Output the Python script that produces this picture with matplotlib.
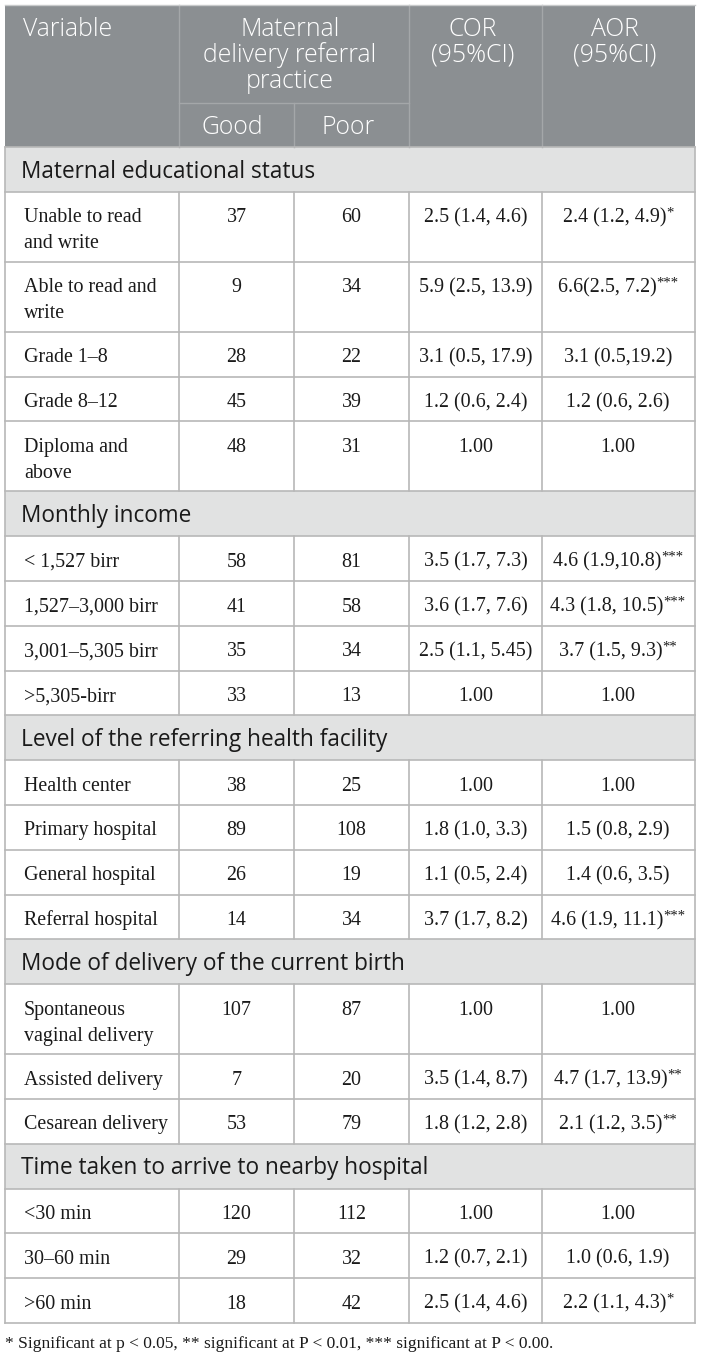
import matplotlib
matplotlib.use("Agg")
import matplotlib.pyplot as plt
from matplotlib.patches import Rectangle

# table content
section_names = [
    "Maternal educational status",
    "Monthly income",
    "Level of the referring health facility",
    "Mode of delivery of the current birth",
    "Time taken to arrive to nearby hospital",
]
row_section = [0, 0, 0, 0, 0, 1, 1, 1, 1, 2, 2, 2, 2, 3, 3, 3, 4, 4, 4]
row_labels = [
    "Unable to read\nand write", "Able to read and\nwrite", "Grade 1–8", "Grade 8–12",
    "Diploma and\nabove",
    "< 1,527 birr", "1,527–3,000 birr", "3,001–5,305 birr", ">5,305-birr",
    "Health center", "Primary hospital", "General hospital", "Referral hospital",
    "Spontaneous\nvaginal delivery", "Assisted delivery", "Cesarean delivery",
    "<30 min", "30–60 min", ">60 min",
]
good = [37, 9, 28, 45, 48, 58, 41, 35, 33, 38, 89, 26, 14, 107, 7, 53, 120, 29, 18]
poor = [60, 34, 22, 39, 31, 81, 58, 34, 13, 25, 108, 19, 34, 87, 20, 79, 112, 32, 42]
cor = [
    "2.5 (1.4, 4.6)", "5.9 (2.5, 13.9)", "3.1 (0.5, 17.9)", "1.2 (0.6, 2.4)", "1.00",
    "3.5 (1.7, 7.3)", "3.6 (1.7, 7.6)", "2.5 (1.1, 5.45)", "1.00",
    "1.00", "1.8 (1.0, 3.3)", "1.1 (0.5, 2.4)", "3.7 (1.7, 8.2)",
    "1.00", "3.5 (1.4, 8.7)", "1.8 (1.2, 2.8)",
    "1.00", "1.2 (0.7, 2.1)", "2.5 (1.4, 4.6)",
]
aor = [
    "2.4 (1.2, 4.9)", "6.6(2.5, 7.2)", "3.1 (0.5,19.2)", "1.2 (0.6, 2.6)", "1.00",
    "4.6 (1.9,10.8)", "4.3 (1.8, 10.5)", "3.7 (1.5, 9.3)", "1.00",
    "1.00", "1.5 (0.8, 2.9)", "1.4 (0.6, 3.5)", "4.6 (1.9, 11.1)",
    "1.00", "4.7 (1.7, 13.9)", "2.1 (1.2, 3.5)",
    "1.00", "1.0 (0.6, 1.9)", "2.2 (1.1, 4.3)",
]
aor_stars = [1, 3, 0, 0, 0, 3, 3, 2, 0, 0, 0, 0, 3, 0, 2, 2, 0, 0, 1]
footnote = ("* Significant at p < 0.05, ** significant at P < 0.01, "
            "*** significant at P < 0.00.")

# layout (pixels)
W, H = 701, 1358
x0, x1 = 5, 695
cols = [179, 294, 409, 542]
centers = [236.5, 351.5, 475.5, 618]
top, head_mid, head_bot = 5, 103, 147
h_single, h_double = 44.8, 70
base_off, line_gap = 30.5, 26

head_bg = "#8b8f92"
head_line = "#a4a7a9"
sec_bg = "#e1e2e2"
grid = "#b8b8b8"
txt = "#1a1a1a"

sans = "Open Sans"
serif = "Liberation Serif"
fs_head = 17.8
fs_sec = 16.3
fs_serif = 14.4

fig = plt.figure(figsize=(W / 100, H / 100), dpi=100)
ax = fig.add_axes([0, 0, 1, 1])
ax.set_xlim(0, W)
ax.set_ylim(H, 0)
ax.axis("off")
renderer = fig.canvas.get_renderer()


def lines_at(x, ytop, label, **kw):
    for i, part in enumerate(label.split("\n")):
        ax.text(x, ytop + base_off + i * line_gap, part, va="baseline", **kw)


def text_with_stars(xc, ytop, s, n, **kw):
    yb = ytop + base_off
    main = ax.text(0, yb, s, ha="left", va="baseline", **kw)
    w_main = main.get_window_extent(renderer).width
    if n == 0:
        main.set_x(xc - w_main / 2)
        return
    stars = ax.text(0, yb - 6, "*" * n, ha="left", va="baseline",
                    family=serif, fontsize=10.5, color=kw.get("color"))
    w_star = stars.get_window_extent(renderer).width
    left = xc - (w_main + w_star) / 2
    main.set_x(left)
    stars.set_x(left + w_main)


# header
ax.add_patch(Rectangle((x0, top), x1 - x0, head_bot - top, color=head_bg, lw=0))
for c in [cols[0], cols[2], cols[3]]:
    ax.plot([c, c], [top, head_bot], color=head_line, lw=1)
ax.plot([cols[1], cols[1]], [head_mid, head_bot], color=head_line, lw=1)
ax.plot([cols[0], cols[2]], [head_mid, head_mid], color=head_line, lw=1)
ax.plot([x0, x1], [top, top], color="#c8cacb", lw=1)
hk = dict(family=sans, fontsize=fs_head, color="white", weight="light")
lines_at(23, top, "Variable", ha="left", **hk)
lines_at((cols[0] + cols[2]) / 2 - 4, top, "Maternal\ndelivery referral\npractice",
         ha="center", **hk)
lines_at(centers[2] - 3, top, "COR\n(95%CI)", ha="center", **hk)
lines_at(centers[3] - 3, top, "AOR\n(95%CI)", ha="center", **hk)
lines_at(centers[0] - 4, head_mid, "Good", ha="center", **hk)
lines_at(centers[1] - 3, head_mid, "Poor", ha="center", **hk)

# body
y = head_bot
prev_sec = -1
hlines = []
for i, label in enumerate(row_labels):
    if row_section[i] != prev_sec:
        prev_sec = row_section[i]
        ax.add_patch(Rectangle((x0, y), x1 - x0, h_single, color=sec_bg, lw=0))
        lines_at(21, y, section_names[prev_sec], ha="left", family=sans,
                 fontsize=fs_sec, color=txt)
        hlines.append(y)
        y += h_single
        hlines.append(y)
    h = h_double if "\n" in label else h_single
    dk = dict(family=serif, fontsize=fs_serif, color=txt)
    lines_at(24, y, label, ha="left", **dk)
    lines_at(centers[0], y, str(good[i]), ha="center", **dk)
    lines_at(centers[1], y, str(poor[i]), ha="center", **dk)
    lines_at(centers[2], y, cor[i], ha="center", **dk)
    text_with_stars(centers[3], y, aor[i], aor_stars[i], **dk)
    for c in cols:
        ax.plot([c, c], [y, y + h], color=grid, lw=1.2)
    y += h
    hlines.append(y)

for yy in set(hlines):
    ax.plot([x0, x1], [yy, yy], color=grid, lw=1.2)
ax.plot([x0, x0], [head_bot, y], color=grid, lw=1.2)
ax.plot([x1, x1], [head_bot, y], color=grid, lw=1.2)

ax.text(x0, 1348, footnote, ha="left", va="baseline", family=serif,
        fontsize=12.5, color=txt)

fig.savefig("out.png", dpi=100)
